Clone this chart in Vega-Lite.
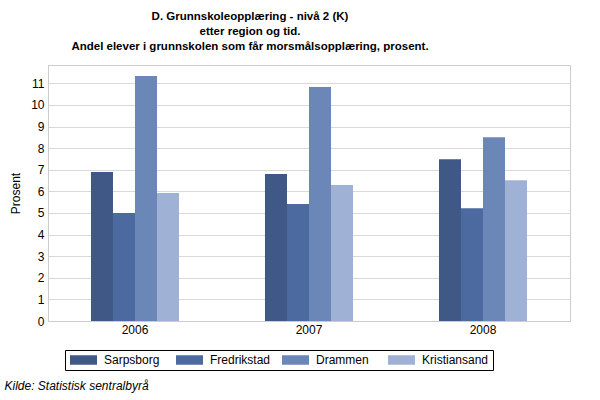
{
  "$schema": "https://vega.github.io/schema/vega-lite/v6.json",
  "width": 522,
  "height": 256,
  "autosize": "none",
  "padding": {"left": 48, "top": 65, "right": 30, "bottom": 79},
  "background": "white",
  "title": {
    "text": ["D. Grunnskoleopplæring - nivå 2 (K)", "etter region og tid.", "Andel elever i grunnskolen som får morsmålsopplæring, prosent."],
    "font": "Liberation Sans",
    "fontSize": 11.5,
    "fontWeight": "bold",
    "color": "black",
    "lineHeight": 15,
    "anchor": "middle",
    "dx": -59,
    "offset": 13
  },
  "data": {
    "values": [
      {"year": "2006", "region": "Sarpsborg", "value": 6.9},
      {"year": "2006", "region": "Fredrikstad", "value": 5.0},
      {"year": "2006", "region": "Drammen", "value": 11.34},
      {"year": "2006", "region": "Kristiansand", "value": 5.93},
      {"year": "2007", "region": "Sarpsborg", "value": 6.8},
      {"year": "2007", "region": "Fredrikstad", "value": 5.42},
      {"year": "2007", "region": "Drammen", "value": 10.83},
      {"year": "2007", "region": "Kristiansand", "value": 6.3},
      {"year": "2008", "region": "Sarpsborg", "value": 7.49},
      {"year": "2008", "region": "Fredrikstad", "value": 5.22},
      {"year": "2008", "region": "Drammen", "value": 8.51},
      {"year": "2008", "region": "Kristiansand", "value": 6.52}
    ]
  },
  "mark": {"type": "bar"},
  "encoding": {
    "x": {
      "field": "year",
      "type": "nominal",
      "scale": {"paddingInner": 0.494, "paddingOuter": 0.247},
      "axis": {
        "labelAngle": 0,
        "labelFont": "Liberation Sans",
        "labelFontSize": 12,
        "labelColor": "black",
        "labelPadding": 3,
        "ticks": false,
        "domain": true,
        "domainColor": "#cccccc",
        "title": "Kilde: Statistisk sentralbyrå",
        "titleFont": "Liberation Sans",
        "titleFontSize": 12,
        "titleFontStyle": "italic",
        "titleFontWeight": "normal",
        "titleColor": "black",
        "titleAnchor": "start",
        "titleAlign": "left",
        "titleX": -44,
        "titleY": 59
      }
    },
    "xOffset": {
      "field": "region",
      "type": "nominal",
      "sort": ["Sarpsborg", "Fredrikstad", "Drammen", "Kristiansand"],
      "scale": {"paddingInner": 0, "paddingOuter": 0}
    },
    "y": {
      "field": "value",
      "type": "quantitative",
      "scale": {"domain": [0, 11.85], "nice": false},
      "axis": {
        "values": [0, 1, 2, 3, 4, 5, 6, 7, 8, 9, 10, 11],
        "title": "Prosent",
        "titleFont": "Liberation Sans",
        "titleFontSize": 12,
        "titleFontWeight": "normal",
        "titleColor": "black",
        "titlePadding": 8,
        "labelFont": "Liberation Sans",
        "labelFontSize": 12,
        "labelColor": "black",
        "labelPadding": 4,
        "ticks": false,
        "domainColor": "#cccccc",
        "gridColor": "#d9d9d9",
        "grid": true
      }
    },
    "color": {
      "field": "region",
      "type": "nominal",
      "sort": ["Sarpsborg", "Fredrikstad", "Drammen", "Kristiansand"],
      "scale": {
        "domain": ["Sarpsborg", "Fredrikstad", "Drammen", "Kristiansand"],
        "range": ["#3f5886", "#4d6aa0", "#6b87b7", "#a0b1d6"]
      },
      "legend": {
        "title": null,
        "orient": "none",
        "legendX": 17,
        "legendY": 285,
        "direction": "horizontal",
        "columns": 4,
        "gridAlign": "all",
        "columnPadding": 4,
        "padding": 4,
        "strokeColor": "black",
        "fillColor": "white",
        "symbolType": "M-1,-0.95H4.4V0.95H-1Z",
        "symbolSize": 100,
        "symbolStrokeWidth": 0,
        "symbolOpacity": 1,
        "labelOffset": 23,
        "labelFont": "Liberation Sans",
        "labelFontSize": 12,
        "labelColor": "black"
      }
    }
  },
  "config": {
    "view": {"stroke": "#cccccc"},
    "axis": {"gridWidth": 1}
  }
}
